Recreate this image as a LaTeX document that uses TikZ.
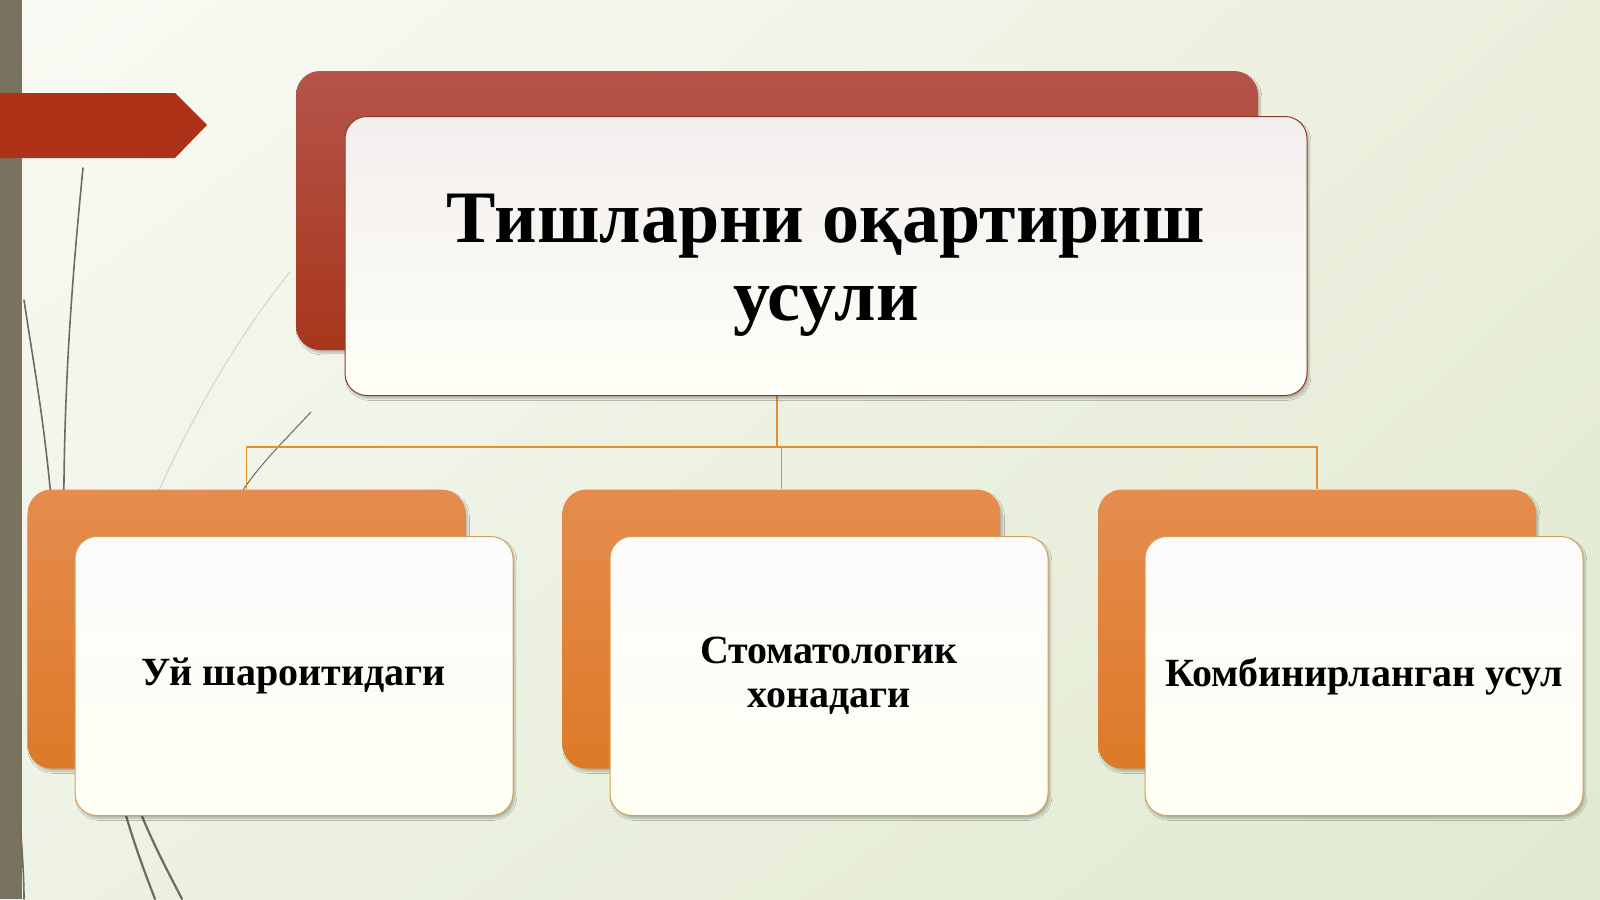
\documentclass[tikz,border=0pt]{standalone}
\usepackage{fontspec}
\setmainfont{Liberation Serif}
\usetikzlibrary{shadows.blur,shadings}
\definecolor{bgUL}{HTML}{FAFAF4}
\definecolor{bgUR}{HTML}{EAEFDC}
\definecolor{bgLL}{HTML}{EEF2E3}
\definecolor{bgLR}{HTML}{E0E9D0}
\definecolor{stripe}{HTML}{78735E}
\definecolor{arrowred}{HTML}{AD3217}
\definecolor{redtop}{HTML}{B5544A}
\definecolor{redbot}{HTML}{A8361C}
\definecolor{orgtop}{HTML}{E58C4E}
\definecolor{orgbot}{HTML}{DD7A28}
\definecolor{conncol}{HTML}{E2902F}
\definecolor{grasscol}{HTML}{6E6D5B}
\definecolor{frontborder}{HTML}{D2A25C}
\definecolor{titleborder}{HTML}{8E3B2B}
\tikzset{
  grass/.style={draw=grasscol, line width=1.6pt, line cap=round},
  backbox/.style={rectangle, rounded corners=24pt, inner sep=0pt, minimum height=279pt,
    blur shadow={shadow xshift=2pt, shadow yshift=-3pt, shadow blur steps=6, shadow opacity=25}},
  backred/.style={backbox, minimum width=962pt, top color=redtop, bottom color=redbot},
  backorg/.style={backbox, minimum width=438pt, top color=orgtop, bottom color=orgbot},
  frontbox/.style={rectangle, rounded corners=22pt, inner sep=0pt, minimum height=279pt,
    align=center, text=black,
    blur shadow={shadow xshift=2pt, shadow yshift=-3pt, shadow blur steps=6, shadow opacity=25}},
  fronttitle/.style={frontbox, minimum width=962pt, draw=titleborder, line width=1pt,
    top color=white!90!red!60!gray!25, bottom color=white!97!yellow},
  titletext/.style={align=center, text=black, inner sep=0pt,
    font=\bfseries\fontsize{74}{78}\selectfont},
  frontsub/.style={frontbox, minimum width=438pt, draw=frontborder, line width=1pt,
    top color=white!97!gray, bottom color=white!96!yellow,
    font=\bfseries\fontsize{40}{44}\selectfont},
  conn/.style={draw=conncol, line width=1.6pt}
}
\begin{document}
\begin{tikzpicture}[x=1pt,y=-1pt]
\useasboundingbox (0,0) rectangle (1600,899);
% background
\shade[upper left=bgUL, upper right=bgUR, lower left=bgLL, lower right=bgLR] (0,0) rectangle (1600,899);
\fill[stripe] (0,0) rectangle (22,899);
% grass decorations
\draw[grass] (83,168) .. controls (72,280) and (62,400) .. (64,560);
\draw[grass] (24,300) .. controls (36,380) and (48,440) .. (56,560);
\draw[draw=gray!35, line width=1pt] (290,272) .. controls (235,340) and (190,420) .. (150,510);
\draw[grass, line width=1pt] (311,412) .. controls (285,440) and (262,462) .. (243,490);
\draw[grass, line width=2.2pt] (112,760) .. controls (125,820) and (140,860) .. (155,899);
\draw[grass, line width=2.2pt] (122,760) .. controls (140,820) and (162,860) .. (182,899);
\draw[grass, line width=1.6pt] (20,820) .. controls (22,850) and (24,875) .. (24,899);
% red arrow
\fill[arrowred] (0,93) -- (175,93) -- (207,125) -- (175,158) -- (0,158) -- cycle;
% back boxes
\node[backred] (tb) at (777,210.5) {};
\node[backorg] (b1) at (246.5,629) {};
\node[backorg] (b2) at (781.5,629) {};
\node[backorg] (b3) at (1317,629) {};
% connectors
\coordinate (bus) at (0,447);
\draw[conn] (tb.south) -- (tb.south |- bus);
\draw[conn] (b1.north) -- (b1.north |- bus) -- (b3.north |- bus) -- (b3.north);
\draw[conn] (b2.north) -- (b2.north |- bus);
% front boxes
\node[fronttitle] (tf) at (826,256) {};
\node[titletext] (tt) at ([yshift=-9pt]tf.center) {Тишларни оқартириш\\усули};
\node[frontsub] (f1) at (294,676) {Уй шароитидаги};
\node[frontsub] (f2) at (829,676) {Стоматологик\\хонадаги};
\node[frontsub] (f3) at (1364,676) {Комбинирланган усул};
\end{tikzpicture}
\end{document}
